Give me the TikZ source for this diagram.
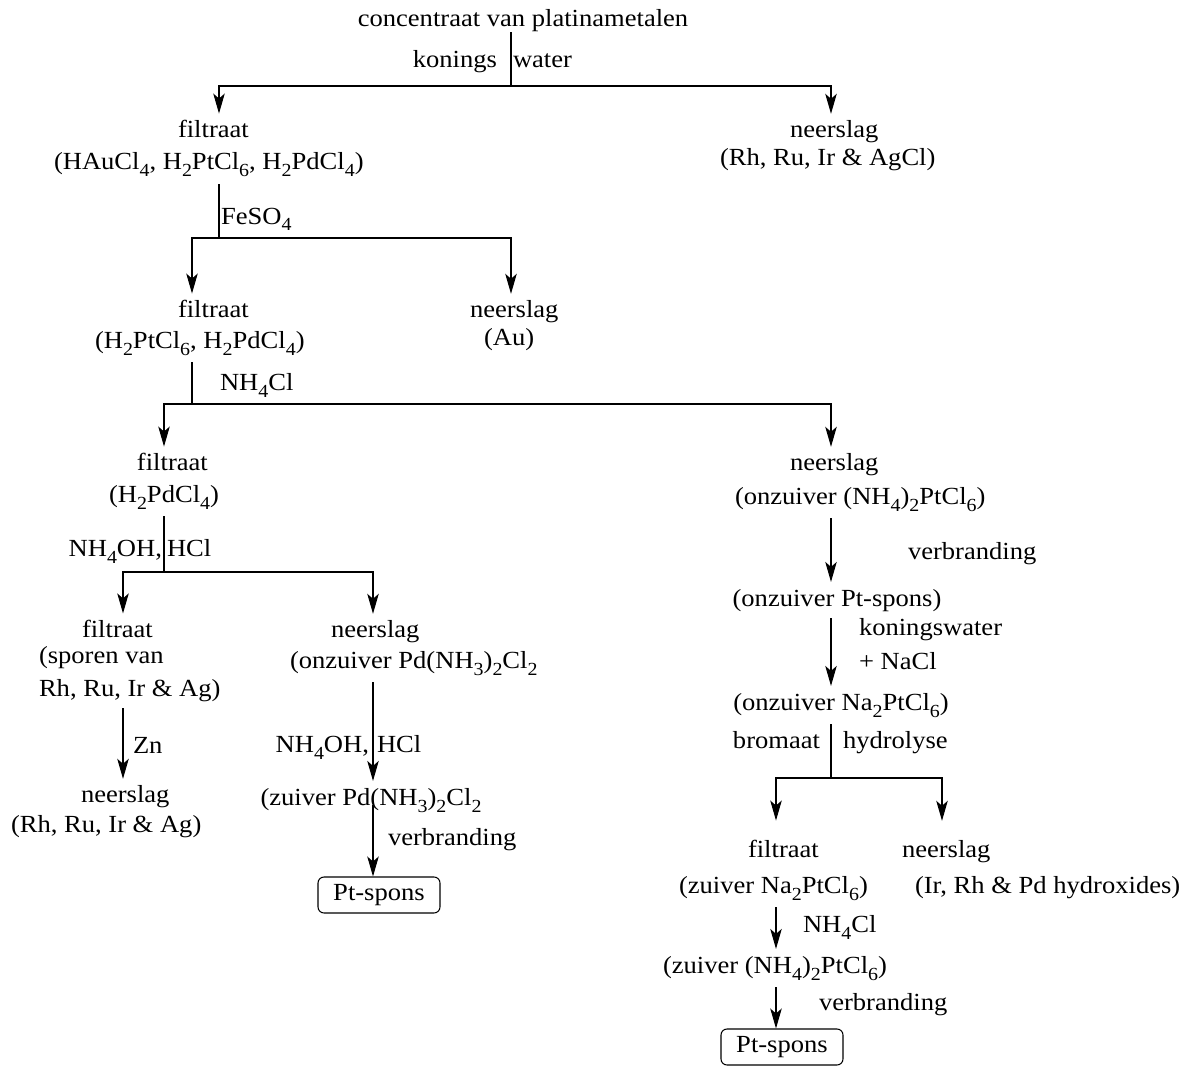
\documentclass[tikz,border=0pt]{standalone}
\usepackage{fontspec}
\setmainfont{Liberation Serif}[FakeStretch=1.08]
\usetikzlibrary{arrows.meta}
\usetikzlibrary{calc,shapes}

\newlength{\pxu}
\setlength{\pxu}{0.02cm}
\newcommand{\schuif}[1]{\hspace*{#1\pxu}}
\newcommand{\onder}[1]{\raisebox{-7\pxu}{\fontsize{10.5}{10.5}\selectfont #1}}

\tikzset{
	>={Stealth[length=4mm,width=2.3mm,inset=1mm]},
	lbl/.style={inner sep=0pt,outer xsep=0pt,outer ysep=4pt},
	stof/.style={lbl,align=left,anchor=base west},
	doos/.style={draw,rounded corners=0.12cm,inner sep=0pt,minimum width=2.44cm,minimum height=0.72cm}
}

\begin{document}
\begin{tikzpicture}[x=0.02cm,y=-0.02cm,line width=0.6pt,font=\fontsize{14}{16}\selectfont]
				\useasboundingbox (0,0) rectangle (1191,1068);
				% Stoffen
				\node[lbl,anchor=base,outer ysep=0pt] (bron) at (523,27) {concentraat van platinametalen};
				\node[stof] (filt1) at (54,170) {\schuif{124}filtraat\\[0.8mm](HAuCl\onder{4}, H\onder{2}PtCl\onder{6}, H\onder{2}PdCl\onder{4})};
				\node[stof] (neer1) at (720,166) {\schuif{70}neerslag\\(Rh, Ru, Ir \& AgCl)};
				\node[stof] (filt2) at (95,348) {\schuif{83}filtraat\\[0.4mm](H\onder{2}PtCl\onder{6}, H\onder{2}PdCl\onder{4})};
				\node[stof] (neer2) at (470,345) {neerslag\\[-0.2mm]\schuif{14}(Au)};
				\node[stof] (filt3) at (109,502) {\schuif{28}filtraat\\[0.6mm](H\onder{2}PdCl\onder{4})};
				\node[stof] (neer3) at (735,504) {\schuif{55}neerslag\\[1mm](onzuiver (NH\onder{4})\onder{2}PtCl\onder{6})};
				\node[stof] (filt4) at (39,696) {\schuif{43}filtraat\\[-0.4mm](sporen van\\[0.8mm]Rh, Ru, Ir \& Ag)};
				\node[stof] (neer4) at (290,668) {\schuif{41}neerslag\\[0.4mm](onzuiver Pd(NH\onder{3})\onder{2}Cl\onder{2}};
				\node[stof] (neer5) at (11,832) {\schuif{70}neerslag\\[0.2mm](Rh, Ru, Ir \& Ag)};
				\node[lbl,anchor=base] (zuiv1) at (371,805) {(zuiver Pd(NH\onder{3})\onder{2}Cl\onder{2}};
				\node[doos] (spons1) at (379,895) {Pt-spons};
				\node[lbl,anchor=base] (onz2) at (837,606) {(onzuiver Pt-spons)};
				\node[lbl,anchor=base] (onz3) at (841,710) {(onzuiver Na\onder{2}PtCl\onder{6})};
				\node[stof] (filt6) at (679,893) {\schuif{69}filtraat\\[1.4mm](zuiver Na\onder{2}PtCl\onder{6})};
				\node[stof] (neer6) at (902,893) {neerslag\\[1.4mm]\schuif{13}(Ir, Rh \& Pd hydroxides)};
				\node[lbl,anchor=base] (zuiv2) at (775,973) {(zuiver (NH\onder{4})\onder{2}PtCl\onder{6})};
				\node[doos] (spons2) at (782,1047) {Pt-spons};
				% Reagentia
				\node[lbl,anchor=base east] (kon1) at (497,68) {konings};
				\node[lbl,anchor=base west] (wat1) at (513,68) {water};
				\node[lbl,anchor=base west] (feso) at (221,224) {FeSO\onder{4}};
				\node[lbl,anchor=base west] (nhcl1) at (220,390) {NH\onder{4}Cl};
				\node[lbl,anchor=base east] (nhoh1) at (162,556) {NH\onder{4}OH,};
				\node[lbl,anchor=base west] (hcl1) at (167,556) {HCl};
				\node[lbl,anchor=base west] (zn) at (133,753) {Zn};
				\node[lbl,anchor=base east] (nhoh2) at (369,752) {NH\onder{4}OH,};
				\node[lbl,anchor=base west] (hcl2) at (377,752) {HCl};
				\node[lbl,anchor=base west] (verbr1) at (388,845) {verbranding};
				\node[lbl,anchor=base west] (verbr2) at (908,559) {verbranding};
				\node[stof] (kw) at (859,669) {koningswater\\[1mm]+ NaCl};
				\node[lbl,anchor=base east] (brom) at (820,748) {bromaat};
				\node[lbl,anchor=base west] (hydr) at (843,748) {hydrolyse};
				\node[lbl,anchor=base west] (nhcl2) at (803,932) {NH\onder{4}Cl};
				\node[lbl,anchor=base west] (verbr3) at (819,1010) {verbranding};
				% Splitsingen
				\coordinate (j1) at (511,86);
				\coordinate (j1l) at (219,86);
				\coordinate (j1r) at (831,86);
				\coordinate (j2) at (219,238);
				\coordinate (j2l) at (192,238);
				\coordinate (j2r) at (511,238);
				\coordinate (j3) at (192,404);
				\coordinate (j3l) at (164,404);
				\coordinate (j3r) at (831,404);
				\coordinate (j4) at (164,572);
				\coordinate (j4l) at (123,572);
				\coordinate (j4r) at (373,572);
				\coordinate (j5) at (831,778);
				\coordinate (j5l) at (776,778);
				\coordinate (j5r) at (942,778);
				% Pijlen
				\draw (bron.south -| j1) -- (j1);
				\draw [->] (j1) -- (j1l) -- (j1l |- filt1.north);
				\draw [->] (j1) -- (j1r) -- (j1r |- neer1.north);
				\draw (filt1.south -| j2) -- (j2);
				\draw [->] (j2) -- (j2l) -- (j2l |- filt2.north);
				\draw [->] (j2) -- (j2r) -- (j2r |- neer2.north);
				\draw (filt2.south -| j3) -- (j3);
				\draw [->] (j3) -- (j3l) -- (j3l |- filt3.north);
				\draw [->] (j3) -- (j3r) -- (j3r |- neer3.north);
				\draw (filt3.south -| j4) -- (j4);
				\draw [->] (j4) -- (j4l) -- (j4l |- filt4.north);
				\draw [->] (j4) -- (j4r) -- (j4r |- neer4.north);
				\draw [->] (filt4.south -| j4l) -- (j4l |- neer5.north);
				\draw [->] (neer4.south -| j4r) -- (j4r |- zuiv1.north);
				\draw [->] (zuiv1.base -| j4r) -- (j4r |- spons1.north);
				\draw [->] (neer3.south -| j3r) -- (j3r |- onz2.north);
				\draw [->] (onz2.south -| j3r) -- (j3r |- onz3.north);
				\draw (onz3.south -| j5) -- (j5);
				\draw [->,shorten >=0.26cm] (j5) -- (j5l) -- (j5l |- filt6.north);
				\draw [->,shorten >=0.26cm] (j5) -- (j5r) -- (j5r |- neer6.north);
				\draw [->] (filt6.south -| j5l) -- (j5l |- zuiv2.north);
				\draw [->] (zuiv2.south -| j5l) -- (j5l |- spons2.north);
\end{tikzpicture}
\end{document}
